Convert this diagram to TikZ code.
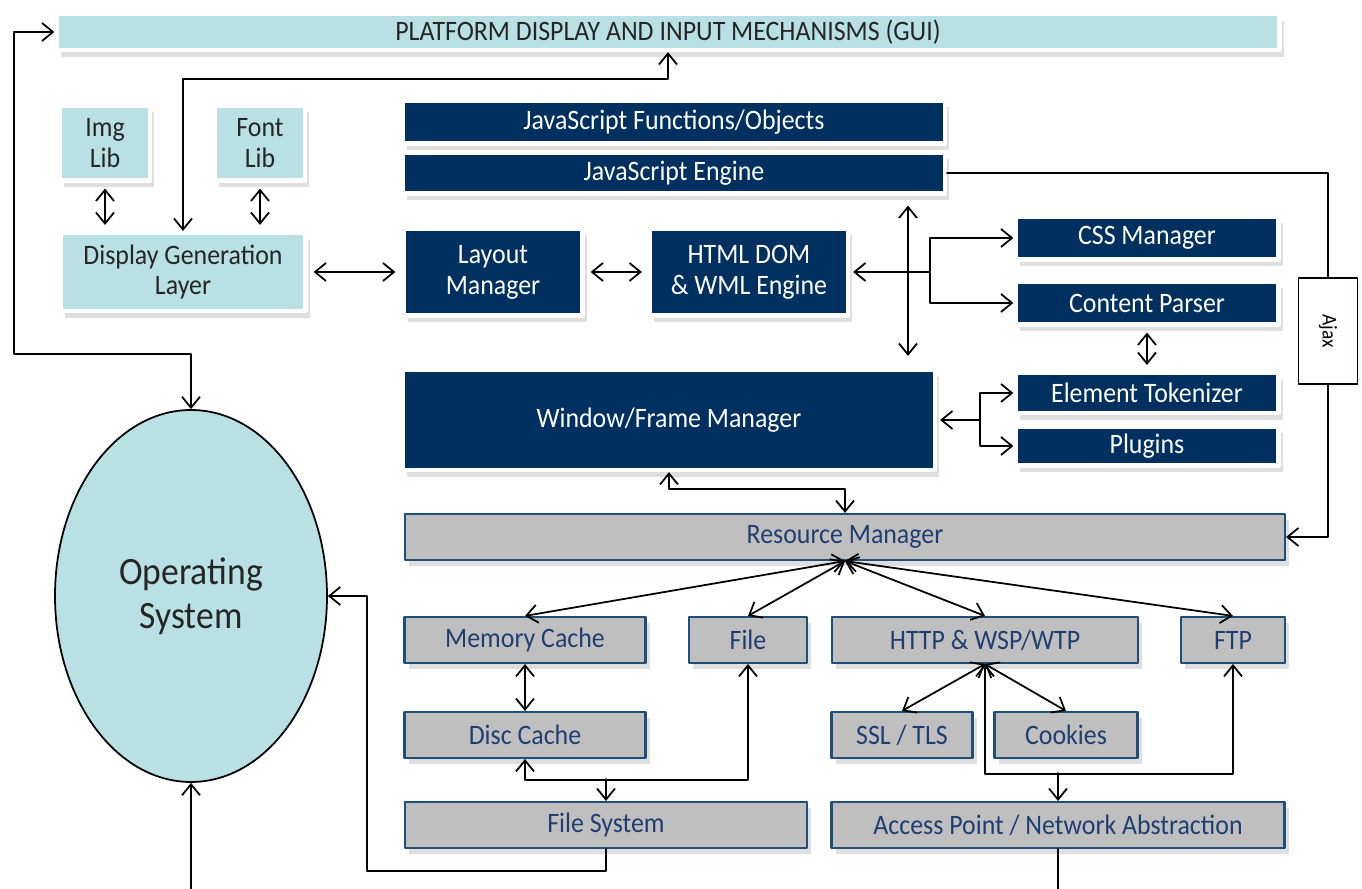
\documentclass[tikz,border=0pt]{standalone}
\usepackage{fontspec}
\setmainfont{Carlito}[FakeStretch=0.92]
\usetikzlibrary{arrows.meta,shadows,shapes.geometric}
\definecolor{tealbox}{HTML}{B9E0E3}
\definecolor{navybox}{HTML}{00305F}
\definecolor{greybox}{HTML}{BFBFBF}
\definecolor{rimblue}{HTML}{1F4E79}
\definecolor{inkblue}{HTML}{1F3F72}
\begin{document}
\begin{tikzpicture}[x=0.01cm,y=-0.01cm,>={Straight Barb[length=1.1mm,width=1.8mm]},line join=round,line cap=round,font=\fontsize{8}{8.8}\selectfont,
	wh/.style 2 args={minimum width=#1*.01cm,minimum height=#2*.01cm,inner sep=0pt,align=center},
	lt/.style={fill=tealbox,draw=white,line width=1.2pt,text=black!85,drop shadow={opacity=.25,shadow xshift=.4mm,shadow yshift=-.7mm}},
	dk/.style={fill=navybox,draw=white,line width=1.2pt,text=white,drop shadow={opacity=.25,shadow xshift=.4mm,shadow yshift=-.7mm}},
	gy/.style={fill=greybox,draw=rimblue,line width=.6pt,text=inkblue,drop shadow={opacity=.25,shadow xshift=.4mm,shadow yshift=-.6mm}},
	ln/.style={line width=.5pt},
	gap/.style={shorten <=.6mm,shorten >=.6mm}]
	\useasboundingbox (0,0) rectangle (1362,889);
	\node[lt,wh={1223}{36}] (gui) at (668,32) {PLATFORM DISPLAY AND INPUT MECHANISMS (GUI)};
	\node[lt,wh={90}{75}] (img) at (105,143) {Img\\Lib};
	\node[lt,wh={90}{75}] (fnt) at (260,143) {Font\\Lib};
	\node[lt,wh={245}{78}] (dgl) at (183,272) {Display Generation\\Layer};
	\node[dk,wh={542}{43}] (jsf) at (674,122) {JavaScript Functions/Objects};
	\node[dk,wh={542}{41}] (jse) at (674,173) {JavaScript Engine};
	\node[dk,wh={179}{87}] (lay) at (493,272) {Layout\\Manager};
	\node[dk,wh={198}{87}] (dom) at (749,272) {HTML DOM\\\& WML Engine};
	\node[dk,wh={263}{43}] (css) at (1147,238) {CSS Manager};
	\node[dk,wh={263}{43}] (cp) at (1147,303) {Content Parser};
	\node[dk,wh={263}{40}] (tok) at (1147,393) {Element Tokenizer};
	\node[dk,wh={263}{39}] (plg) at (1147,446) {Plugins};
	\node[dk,wh={532}{100}] (win) at (669,420) {Window/Frame Manager};
	\node[gy,wh={880}{46}] (rm) at (845,537) {Resource Manager};
	\node[gy,wh={241}{46}] (mem) at (525,640) {Memory Cache};
	\node[gy,wh={118}{46}] (file) at (748,640) {File};
	\node[gy,wh={306}{46}] (http) at (985,640) {HTTP \& WSP/WTP};
	\node[gy,wh={104}{46}] (ftp) at (1233,640) {FTP};
	\node[gy,wh={241}{46}] (disc) at (525,735) {Disc Cache};
	\node[gy,wh={141}{46}] (ssl) at (902,735) {SSL / TLS};
	\node[gy,wh={143}{46}] (cook) at (1066,735) {Cookies};
	\node[gy,wh={402}{46}] (fs) at (606,825) {File System};
	\node[gy,wh={453}{46}] (ap) at (1058,825) {Access Point / Network Abstraction};
	\node[draw,fill=white,ln,wh={59}{106},font=\fontsize{6}{7}\selectfont,drop shadow={opacity=.2,color=tealbox,shadow xshift=.3mm,shadow yshift=-.3mm}] (ajax) at (1328,331) {\rotatebox{-90}{Ajax}};
	\node[ellipse,draw,fill=tealbox,ln,wh={272}{372},font=\fontsize{11}{12.5}\selectfont,text=black!85] (os) at (191,596) {Operating\\System};
	\path
	(930,272) coordinate (j1)
	(980,420) coordinate (j2)
	(606,779) coordinate (j3)
	(1058,773) coordinate (j4)
	(1058,889) coordinate (apout)
	(191,889) coordinate (osin)
	;
	\draw[ln,<->] (os.north) -- ++(0,-55) -| (14,32) -- (gui.west);
	\draw[ln,<->] (dgl.north) |- ([yshift=-.27cm]gui.south) -- (gui.south);
	\draw[ln,<->,gap] (img) -- (img |- dgl.north);
	\draw[ln,<->,gap] (fnt) -- (fnt |- dgl.north);
	\draw[ln,<->,gap] (dgl) -- (lay);
	\draw[ln,<->,gap] (lay) -- (dom);
	\draw[ln,<->,shorten <=1mm,shorten >=1.2mm] (jse.south -| 908,0) -- (win.north -| 908,0);
	\draw[ln,->,shorten >=.3mm] (j1) -- (dom.east);
	\draw[ln,->] (j1) |- (css.west);
	\draw[ln,->] (j1) |- (cp.west);
	\draw[ln,<->,gap] (cp) -- (tok);
	\draw[ln,->,shorten >=.3mm] (j2) -- (win.east);
	\draw[ln,->] (j2) |- (tok.west);
	\draw[ln,->] (j2) |- (plg.west);
	\draw[ln,<->] (win.south) |- ([yshift=.24cm]rm.north) -- (rm.north);
	\draw[ln] (jse.east) -| (ajax.north);
	\draw[ln,->] (ajax.south) |- (rm.east);
	\foreach \t in {mem,file,http,ftp}
	\draw[ln,<->] (rm.south) -- (\t.north);
	\draw[ln,<->] (mem) -- (disc);
	\draw[ln,<->] (disc.south) -- ++(0,21) -| (file.south);
	\draw[ln,->] (j3) -- (fs.north);
	\draw[ln,->] (fs.south) -- ++(0,22) -| (367,596) -- (os.east);
	\foreach \t in {ssl,cook}
	\draw[ln,<->] (http.south) -- (\t.north);
	\draw[ln,<->] (http.south) -- ++(0,110) -| (ftp.south);
	\draw[ln,->] (j4) -- (ap.north);
	\draw[ln] (ap.south) -- (apout);
	\draw[ln,->] (osin) -- (os.south);
\end{tikzpicture}
\end{document}
